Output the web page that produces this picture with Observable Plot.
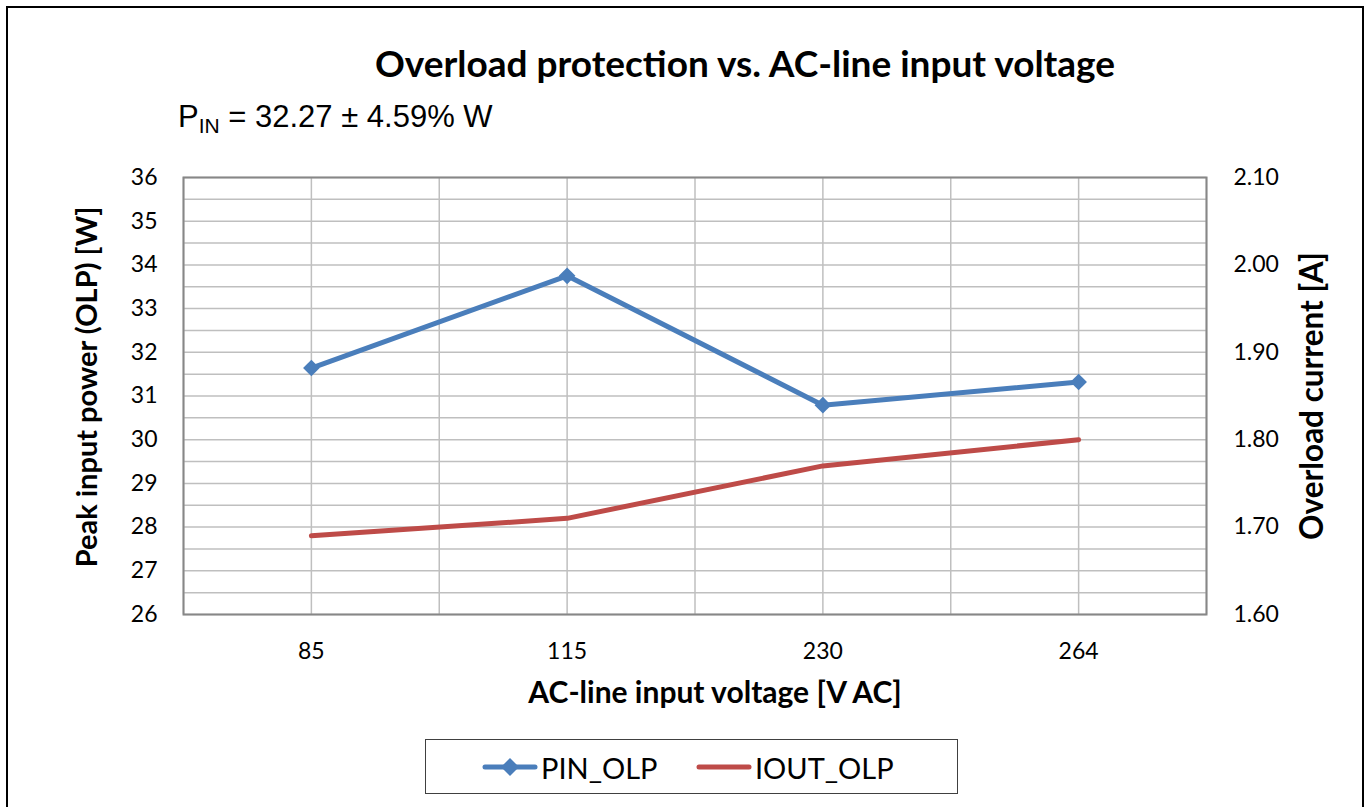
<!DOCTYPE html>
<html>
<head>
<meta charset="utf-8">
<script src="https://cdn.jsdelivr.net/npm/d3@7"></script>
<script src="https://cdn.jsdelivr.net/npm/@observablehq/plot@0.6"></script>
<style>
  html, body { margin: 0; padding: 0; background: #fff; }
  #wrap { position: relative; width: 1370px; height: 807px; overflow: hidden; background: #fff; }
  #border { position: absolute; left: 6px; top: 6px; width: 1358px; height: 900px; border: 2px solid #000; box-sizing: border-box; }
  #title { position: absolute; left: 0; width: 1490px; top: 40px; text-align: center; font-family: Lato, sans-serif; font-weight: bold; font-size: 37px; color: #000; white-space: nowrap; }
  #subtitle { position: absolute; left: 178px; top: 99px; font-family: "Liberation Sans", Arial, sans-serif; font-size: 31px; color: #000; white-space: nowrap; }
  #subtitle sub { font-size: 21px; vertical-align: -6px; }
  #chart { position: absolute; left: 0; top: 0; }
  #legend { position: absolute; left: 425px; top: 739px; width: 533px; height: 55px; border: 1px solid #404040; box-sizing: border-box; font-family: Lato, sans-serif; font-size: 29px; color: #000; }
  .item { position: absolute; top: 10px; height: 34px; display: flex; align-items: center; }
  .item svg { margin-right: 3px; }
</style>
</head>
<body>
<div id="wrap">
  <div id="border"></div>
  <div id="title">Overload protection vs. AC-line input voltage</div>
  <div id="subtitle">P<sub>IN</sub> = 32.27 ± 4.59% W</div>
  <div id="chart"></div>
  <div id="legend"></div>
</div>
<script>
// ---- data ----
const categories = ["85", "115", "230", "264"];
const pinOlp = [31.64, 33.75, 30.79, 31.32];   // Peak input power [W]
const ioutOlp = [1.69, 1.71, 1.77, 1.80];      // Overload current [A]
const leftTicks = [26, 27, 28, 29, 30, 31, 32, 33, 34, 35, 36];
const rightTickLabels = ["1.60", "1.70", "1.80", "1.90", "2.00", "2.10"];
const seriesNames = ["PIN_OLP", "IOUT_OLP"];
const colors = ["#4a7ebb", "#be4b48"];

// right axis (A) mapped onto left axis (W)
const aToW = a => 26 + (a - 1.6) * 20;
const rightTickPos = rightTickLabels.map(s => aToW(+s));

const rows = categories.map((c, i) => ({i, cat: c, pin: pinOlp[i], iout: aToW(ioutOlp[i])}));

const gridY = d3.range(26, 36.001, 0.5);
const gridX = d3.range(-0.5, 3.501, 0.5);

const fontFam = "Lato, sans-serif";

const plot = Plot.plot({
  width: 1370,
  height: 807,
  marginLeft: 183,
  marginRight: 164,
  marginTop: 177,
  marginBottom: 193,
  style: {fontFamily: fontFam, fontSize: "23px", color: "#000", background: "transparent", overflow: "visible"},
  x: {type: "linear", domain: [-0.5, 3.5]},
  y: {type: "linear", domain: [26, 36]},
  marks: [
    Plot.ruleY(gridY, {stroke: "#bfbfbf", strokeWidth: 1.5}),
    Plot.ruleX(gridX, {stroke: "#bfbfbf", strokeWidth: 1.5}),
    Plot.frame({stroke: "#878787", strokeWidth: 2}),
    Plot.axisY(leftTicks, {anchor: "left", tickSize: 0, tickPadding: 26, label: null, fontSize: 23}),
    Plot.axisY(rightTickPos, {anchor: "right", tickSize: 0, tickPadding: 27, label: null, fontSize: 23,
      tickFormat: (d) => rightTickLabels[rightTickPos.indexOf(d)], textAnchor: "start"}),
    Plot.axisX([0, 1, 2, 3], {anchor: "bottom", tickSize: 0, tickPadding: 28, label: null, fontSize: 23,
      tickFormat: i => categories[i]}),
    Plot.text(["Peak input power (OLP) [W]"], {frameAnchor: "left", dx: -96, dy: -9, rotate: -90, textAnchor: "middle", fontWeight: "bold", fontSize: 29, text: d => d}),
    Plot.text(["Overload current [A]"], {frameAnchor: "right", dx: 106, dy: 0, rotate: -90, textAnchor: "middle", fontWeight: "bold", fontSize: 31.5, text: d => d}),
    Plot.text(["AC-line input voltage [V AC]"], {frameAnchor: "bottom", dy: 88, dx: 20, textAnchor: "middle", fontWeight: "bold", fontSize: 30, text: d => d}),
    Plot.line(rows, {x: "i", y: "iout", stroke: colors[1], strokeWidth: 5, strokeLinecap: "round", strokeLinejoin: "round"}),
    Plot.line(rows, {x: "i", y: "pin", stroke: colors[0], strokeWidth: 5, strokeLinecap: "round", strokeLinejoin: "round"}),
    Plot.dot(rows, {x: "i", y: "pin", symbol: "diamond2", r: 7.5, fill: colors[0], stroke: "none"})
  ]
});
document.getElementById("chart").appendChild(plot);

// ---- legend ----
const legend = document.getElementById("legend");
const itemLefts = [56, 270];
seriesNames.forEach((name, k) => {
  const item = document.createElement("div");
  item.className = "item";
  item.style.left = itemLefts[k] + "px";
  const marker = k === 0 ? `<path d="M28,8 L37,17 L28,26 L19,17 Z" fill="${colors[0]}"/>` : "";
  item.innerHTML = `<svg width="56" height="34"><line x1="3" y1="17" x2="53" y2="17" stroke="${colors[k]}" stroke-width="5" stroke-linecap="round"/>${marker}</svg><span>${name}</span>`;
  legend.appendChild(item);
});
</script>
</body>
</html>
